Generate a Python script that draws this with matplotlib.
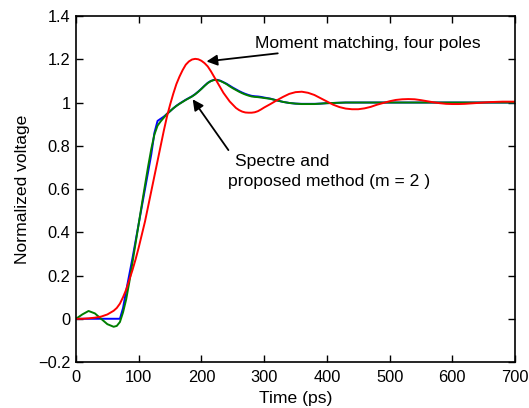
import matplotlib
matplotlib.use("Agg")
import matplotlib.pyplot as plt
import numpy as np

plt.rcParams["font.family"] = ["Liberation Sans", "DejaVu Sans"]

# time grid (ps) shared by the three responses
t = [0, 10, 20, 30, 40, 50, 60, 65, 70, 75, 80, 85, 90, 95, 100, 105, 110, 115,
     120, 125, 130, 135, 140, 145, 150, 155, 160, 165, 170, 175, 180, 185, 190,
     195, 200, 205, 210, 215, 220, 225, 230, 235, 240, 245, 250, 255, 260, 265,
     270, 275, 280, 285, 290, 295, 300, 310, 320, 330, 340, 350, 360, 370, 380,
     390, 400, 410, 420, 430, 440, 450, 460, 470, 480, 490, 500, 510, 520, 530,
     540, 550, 560, 570, 580, 590, 600, 610, 620, 630, 640, 650, 660, 670, 680,
     690, 700]

# Spectre reference (blue)
spectre = [0, 0, 0, 0, 0, 0, 0, 0, 0, 0.05, 0.13, 0.205, 0.28, 0.36, 0.44, 0.52,
           0.60, 0.68, 0.76, 0.86, 0.915, 0.925, 0.935, 0.947, 0.96, 0.973,
           0.985, 0.995, 1.004, 1.013, 1.021, 1.029, 1.039, 1.051, 1.064, 1.078,
           1.091, 1.10, 1.105, 1.105, 1.101, 1.094, 1.087, 1.078, 1.069, 1.061,
           1.053, 1.046, 1.040, 1.035, 1.031, 1.029, 1.028, 1.026, 1.023, 1.018,
           1.01, 1.003, 0.998, 0.995, 0.994, 0.994, 0.994, 0.995, 0.997, 0.998,
           0.999, 1.0, 1.0, 1.0, 1.0, 1.0, 1.0, 1.0, 1.0, 1.0, 1.0, 1.0, 1.0, 1.0,
           1.0, 1.0, 1.0, 1.0, 1.0, 1.0, 1.0, 1.0, 1.0, 1.0, 1.0, 1.0, 1.0, 1.0,
           1.0]

# proposed method, m = 2 (green)
proposed = [0, 0.02, 0.036, 0.025, 0.0, -0.025, -0.037, -0.033, -0.015, 0.03,
            0.09, 0.17, 0.26, 0.35, 0.44, 0.53, 0.618, 0.705, 0.785, 0.852,
            0.893, 0.913, 0.93, 0.948, 0.96, 0.973, 0.984, 0.994, 1.003, 1.012,
            1.02, 1.028, 1.038, 1.05, 1.063, 1.077, 1.09, 1.099, 1.104, 1.104,
            1.10, 1.093, 1.085, 1.075, 1.066, 1.058, 1.05, 1.043, 1.037, 1.032,
            1.028, 1.026, 1.025, 1.023, 1.021, 1.017, 1.01, 1.003, 0.998, 0.995,
            0.993, 0.993, 0.993, 0.995, 0.997, 0.998, 0.999, 1.0, 1.0, 1.0, 1.0,
            1.0, 1.0, 1.0, 1.0, 1.0, 1.0, 1.0, 1.0, 1.0, 1.0, 1.0, 1.0, 1.0, 1.0,
            1.0, 1.0, 1.0, 1.0, 1.0, 1.0, 1.0, 1.0, 1.0, 1.0]

# moment matching, four poles (red)
moment = [0, 0.0, 0.002, 0.005, 0.01, 0.02, 0.037, 0.05, 0.07, 0.10, 0.135,
          0.18, 0.225, 0.275, 0.33, 0.39, 0.45, 0.52, 0.59, 0.66, 0.73, 0.80,
          0.87, 0.935, 0.99, 1.04, 1.085, 1.12, 1.15, 1.175, 1.19, 1.199, 1.202,
          1.20, 1.193, 1.182, 1.167, 1.145, 1.12, 1.095, 1.07, 1.045, 1.025,
          1.005, 0.99, 0.975, 0.965, 0.958, 0.954, 0.953, 0.953, 0.955, 0.96,
          0.968, 0.977, 0.993, 1.01, 1.026, 1.04, 1.048, 1.05, 1.045, 1.035,
          1.02, 1.005, 0.99, 0.979, 0.972, 0.969, 0.969, 0.973, 0.98, 0.99,
          0.998, 1.006, 1.012, 1.015, 1.016, 1.015, 1.011, 1.006, 1.001, 0.997,
          0.994, 0.993, 0.993, 0.994, 0.996, 0.998, 1.0, 1.002, 1.003, 1.004,
          1.004, 1.004]

xticks = [0, 100, 200, 300, 400, 500, 600, 700]
yticks = [-0.2, 0, 0.2, 0.4, 0.6, 0.8, 1, 1.2, 1.4]

fig = plt.figure(figsize=(5.29, 4.08), dpi=100)
ax = fig.add_axes([0.1437, 0.1127, 0.8299, 0.848])

ax.plot(t, spectre, color="#0000ff", lw=1.4)
ax.plot(t, proposed, color="#007f00", lw=1.4)
ax.plot(t, moment, color="#ff0000", lw=1.4)

ax.set_xlim(0, 700)
ax.set_ylim(-0.2, 1.4)
ax.set_xticks(xticks)
ax.set_yticks(yticks)
ax.set_yticklabels([("%g" % v).replace("-", "\u2212") for v in yticks])
ax.tick_params(direction="in", length=5, width=1, top=True, right=True,
               labelsize=11.8, pad=4)
ax.tick_params(axis="x", pad=6)
for s in ax.spines.values():
    s.set_linewidth(1.2)

fs = 12.6
ax.set_xlabel("Time (ps)", fontsize=fs, labelpad=4)
ax.set_ylabel("Normalized voltage", fontsize=fs, labelpad=6)

arrow = dict(arrowstyle="-|>", color="k", lw=1.3, mutation_scale=16,
             shrinkA=0, shrinkB=0)
ax.annotate("Moment matching, four poles", xy=(208, 1.19), xytext=(286, 1.275),
            fontsize=fs, va="center", ha="left", arrowprops=arrow)
ax.annotate("", xy=(186, 1.015), xytext=(243, 0.78), arrowprops=arrow)
ax.text(254, 0.725, "Spectre and", fontsize=fs, va="center", ha="left")
ax.text(243, 0.637, "proposed method (m = 2 )", fontsize=fs, va="center",
        ha="left")

fig.savefig("out.png", dpi=100)
